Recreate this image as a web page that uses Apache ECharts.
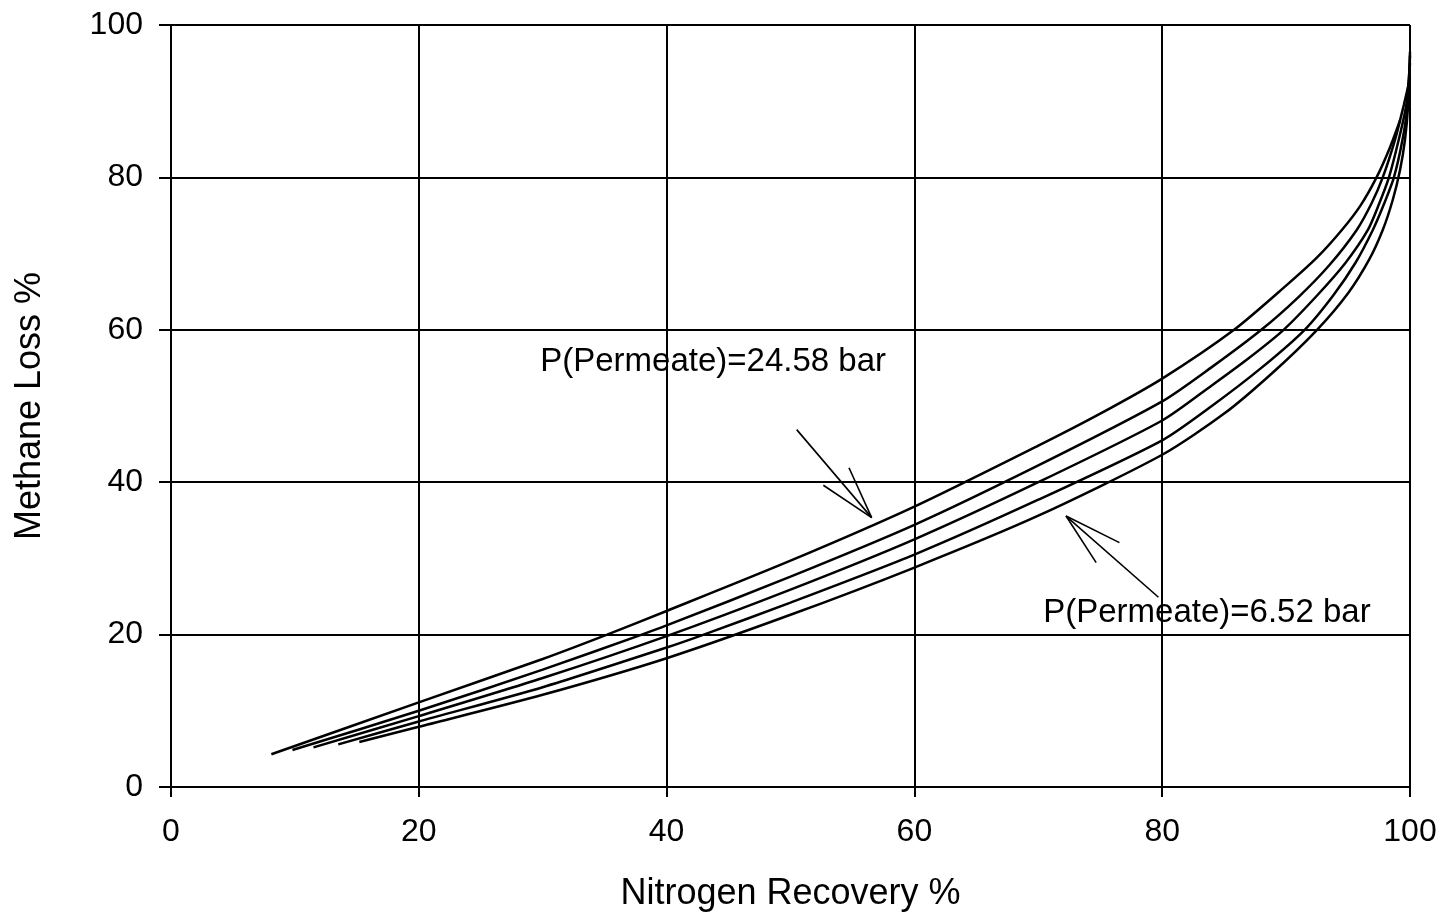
<!DOCTYPE html>
<html>
<head>
<meta charset="utf-8">
<script src="https://cdn.jsdelivr.net/npm/echarts@6/dist/echarts.min.js"></script>
<style>html,body{margin:0;padding:0;background:#fff}#c{width:1443px;height:917px}</style>
</head>
<body>
<div id="c"></div>
<script>
// Curves: Nitrogen Recovery % (x) vs Methane Loss % (y), top curve = 24.58 bar, bottom = 6.52 bar
const curve1 = [[8.1,4.3],[20,11.1],[30,16.8],[35.2,20],[40,23.1],[50,29.7],[60,36.8],[70,44.8],[75,49.0],[80,53.6],[85.8,60],[90,65.8],[92.5,69.5],[94.5,73.1],[96,76.3],[97.3,80],[98.4,84],[99.2,87.5]];
const curve2 = [[9.8,4.85],[20,10.0],[30,15.4],[38,20],[40,21.2],[50,27.6],[60,34.4],[70,42.2],[80,50.6],[84,55.1],[88,60],[91,64.3],[93.5,68.5],[95.7,73.1],[96.9,76.6],[97.8,80],[98.8,85],[99.5,89.5],[100,93]];
const curve3 = [[11.5,5.2],[20,9.3],[30,14.3],[40,19.8],[50,25.9],[60,32.5],[70,40.0],[80,48.1],[84,52.7],[87,56.3],[89.8,60],[92.5,64.5],[94.8,68.8],[96.6,73.1],[97.5,76.5],[98.3,80],[99.1,85],[99.7,89.5],[100,95]];
const curve4 = [[13.5,5.6],[20,8.6],[30,13.1],[40,18.3],[43,20],[50,24.2],[60,30.5],[70,37.7],[80,45.5],[84,50.0],[88,55.0],[91.5,60],[93.8,64.5],[95.6,68.8],[97.0,73.1],[97.9,76.5],[98.7,80],[99.4,85],[99.8,89.5],[100,96.5]];
const curve5 = [[15.2,5.9],[20,7.9],[30,12.1],[40,16.9],[50,22.6],[60,28.8],[70,35.6],[80,43.6],[85,49.0],[89,54.5],[92.5,60],[95,64.8],[96.7,69.2],[97.8,73.1],[98.6,77],[99.2,81],[99.6,85],[99.85,89.5],[100,96]];
const curves = [curve1, curve2, curve3, curve4, curve5];

const xTicks = [0,20,40,60,80,100];
const yTicks = [0,20,40,60,80,100];

// Annotation arrows (data coordinates): shaft + two barbs
const arrowHigh = [[[50.5,46.9],[56.55,35.35]],[[52.65,39.6],[56.55,35.35]],[[54.72,41.9],[56.55,35.35]]];
const arrowLow  = [[[79.7,24.9],[72.24,35.56]],[[76.55,32.07],[72.24,35.56]],[[74.67,29.45],[72.24,35.56]]];
const labels = [
  {text:'P(Permeate)=24.58 bar', at:[29.8,55.8]},
  {text:'P(Permeate)=6.52 bar', at:[70.4,22.8]}
];

const FONT = '"Liberation Sans", Arial, sans-serif';
const chart = echarts.init(document.getElementById('c'));

const series = curves.map((c, i) => ({
  type:'line', name:'curve'+(i+1), data:c, showSymbol:false, symbol:'none',
  smooth:0.25, lineStyle:{color:'#000', width:2.5}, silent:true, z:3
}));
series.push({
  type:'lines', coordinateSystem:'cartesian2d', silent:true, z:4,
  lineStyle:{color:'#000', width:1.6, opacity:1},
  data: arrowHigh.concat(arrowLow).map(s => ({coords:s}))
});
labels.forEach(l => series.push({
  type:'scatter', data:[l.at], symbolSize:0.01, silent:true, z:5,
  itemStyle:{opacity:1, color:'rgba(0,0,0,0)'},
  label:{show:true, position:'right', distance:0, formatter:l.text,
         fontFamily:FONT, fontSize:33, color:'#000', opacity:1}
}));

chart.setOption({
  animation:false,
  backgroundColor:'#fff',
  grid:{left:171, right:33, top:25, bottom:129, containLabel:false},
  xAxis:{
    type:'value', min:0, max:100, interval:20,
    name:'Nitrogen Recovery %', nameLocation:'middle', nameGap:107,
    nameTextStyle:{fontFamily:FONT, fontSize:36, color:'#000', verticalAlign:'middle'},
    axisLine:{show:true, onZero:false, lineStyle:{color:'#000', width:2}},
    axisTick:{show:true, length:10, lineStyle:{color:'#000', width:2}},
    axisLabel:{fontFamily:FONT, fontSize:32, color:'#000', margin:29,
               formatter:v => xTicks.includes(v) ? String(v) : ''},
    splitLine:{show:true, lineStyle:{color:'#000', width:2}}
  },
  yAxis:{
    type:'value', min:0, max:100, interval:20,
    name:'Methane Loss %', nameLocation:'middle', nameGap:141, nameRotate:90,
    nameTextStyle:{fontFamily:FONT, fontSize:36, color:'#000', verticalAlign:'middle'},
    axisLine:{show:true, onZero:false, lineStyle:{color:'#000', width:2}},
    axisTick:{show:true, length:12, lineStyle:{color:'#000', width:2}},
    axisLabel:{fontFamily:FONT, fontSize:32, color:'#000', margin:28,
               formatter:v => yTicks.includes(v) ? String(v) : ''},
    splitLine:{show:true, lineStyle:{color:'#000', width:2}}
  },
  series:series
});
</script>
</body>
</html>
